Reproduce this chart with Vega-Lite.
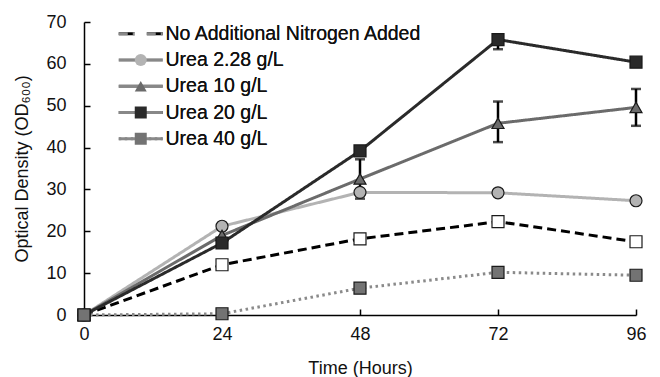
{
  "$schema": "https://vega.github.io/schema/vega-lite/v6.json",
  "width": 552,
  "height": 293,
  "autosize": {"type": "none"},
  "padding": {"left": 84, "top": 22, "right": 24, "bottom": 62},
  "background": "white",
  "config": {
    "view": {"stroke": null},
    "font": "Liberation Sans",
    "axis": {
      "grid": false,
      "domainColor": "#000",
      "domainWidth": 1.5,
      "tickColor": "#000",
      "tickWidth": 1.5,
      "tickSize": -6,
      "labelColor": "#111",
      "labelFontSize": 18,
      "labelFlush": false,
      "labelFont": "Liberation Sans",
      "titleFont": "Liberation Sans",
      "titleFontSize": 18,
      "titleFontWeight": "normal",
      "titleColor": "#111"
    },
    "legend": {
      "labelFont": "Liberation Sans",
      "labelFontSize": 19.5,
      "labelFontWeight": "normal",
      "labelColor": "#111",
      "labelLimit": 0
    }
  },
  "datasets": {
    "series": [
      {"series": "No Additional Nitrogen Added", "time": 0, "od": 0},
      {"series": "No Additional Nitrogen Added", "time": 24, "od": 12.0},
      {"series": "No Additional Nitrogen Added", "time": 48, "od": 18.2},
      {"series": "No Additional Nitrogen Added", "time": 72, "od": 22.3},
      {"series": "No Additional Nitrogen Added", "time": 96, "od": 17.5},
      {"series": "Urea 2.28 g/L", "time": 0, "od": 0},
      {"series": "Urea 2.28 g/L", "time": 24, "od": 21.2},
      {"series": "Urea 2.28 g/L", "time": 48, "od": 29.3},
      {"series": "Urea 2.28 g/L", "time": 72, "od": 29.2},
      {"series": "Urea 2.28 g/L", "time": 96, "od": 27.3},
      {"series": "Urea 10 g/L", "time": 0, "od": 0},
      {"series": "Urea 10 g/L", "time": 24, "od": 19.0},
      {"series": "Urea 10 g/L", "time": 48, "od": 32.5},
      {"series": "Urea 10 g/L", "time": 72, "od": 45.8},
      {"series": "Urea 10 g/L", "time": 96, "od": 49.6},
      {"series": "Urea 20 g/L", "time": 0, "od": 0},
      {"series": "Urea 20 g/L", "time": 24, "od": 17.2},
      {"series": "Urea 20 g/L", "time": 48, "od": 39.2},
      {"series": "Urea 20 g/L", "time": 72, "od": 65.8},
      {"series": "Urea 20 g/L", "time": 96, "od": 60.4},
      {"series": "Urea 40 g/L", "time": 0, "od": 0},
      {"series": "Urea 40 g/L", "time": 24, "od": 0.3},
      {"series": "Urea 40 g/L", "time": 48, "od": 6.4},
      {"series": "Urea 40 g/L", "time": 72, "od": 10.2},
      {"series": "Urea 40 g/L", "time": 96, "od": 9.5}
    ],
    "err": [
      {"series": "Urea 10 g/L", "time": 48, "lo": 27.8, "hi": 37.2},
      {"series": "Urea 10 g/L", "time": 72, "lo": 41.3, "hi": 51.0},
      {"series": "Urea 10 g/L", "time": 96, "lo": 45.2, "hi": 54.0},
      {"series": "Urea 20 g/L", "time": 72, "lo": 63.5, "hi": 67.0}
    ]
  },
  "layer": [
    {
      "data": {"name": "series"},
      "mark": {"type": "line", "strokeWidth": 3},
      "encoding": {
        "x": {
          "field": "time", "type": "quantitative", "title": "Time (Hours)",
          "scale": {"domain": [0, 96], "nice": false},
          "axis": {"values": [0, 24, 48, 72, 96], "labelPadding": 16, "titlePadding": 16}
        },
        "y": {
          "field": "od", "type": "quantitative", "title": "Optical Density (OD₆₀₀)",
          "scale": {"domain": [0, 70], "nice": false},
          "axis": {"values": [0, 10, 20, 30, 40, 50, 60, 70], "labelPadding": 24, "titlePadding": 14}
        },
        "color": {
          "field": "series", "type": "nominal",
          "sort": ["No Additional Nitrogen Added", "Urea 2.28 g/L", "Urea 10 g/L", "Urea 20 g/L", "Urea 40 g/L"],
          "scale": {"range": ["#000000", "#b3b3b3", "#6b6b6b", "#2a2a2a", "#8a8a8a"]},
          "legend": {"title": null, "orient": "none", "legendX": 34, "legendY": 2, "symbolType": "M-4.4,0H4.4", "symbolSize": 100, "symbolStrokeWidth": 3, "symbolOffset": 13, "labelOffset": 15, "rowPadding": 5.25}
        },
        "strokeDash": {
          "field": "series", "type": "nominal",
          "sort": ["No Additional Nitrogen Added", "Urea 2.28 g/L", "Urea 10 g/L", "Urea 20 g/L", "Urea 40 g/L"],
          "scale": {"range": [[9, 5], [1, 0], [1, 0], [1, 0], [2.5, 3.5]]},
          "legend": {"title": null, "orient": "none", "legendX": 34, "legendY": 2, "symbolType": "M-4.4,0H4.4", "symbolSize": 100, "symbolStrokeWidth": 3, "symbolOffset": 13, "labelOffset": 15, "rowPadding": 5.25}
        }
      }
    },
    {
      "data": {"name": "err"},
      "mark": {"type": "errorbar", "ticks": {"color": "#000"}, "rule": {"color": "#000"}, "thickness": 2.5, "size": 10, "color": "#000"},
      "encoding": {
        "x": {"field": "time", "type": "quantitative", "title": "Time (Hours)"},
        "y": {"field": "lo", "type": "quantitative", "title": "Optical Density (OD₆₀₀)"},
        "y2": {"field": "hi"}
      }
    },
    {
      "data": {"name": "series"},
      "mark": {"type": "point", "filled": true, "size": 144, "stroke": "#1a1a1a", "strokeWidth": 1.2, "opacity": 1},
      "encoding": {
        "x": {"field": "time", "type": "quantitative", "title": "Time (Hours)"},
        "y": {"field": "od", "type": "quantitative", "title": "Optical Density (OD₆₀₀)"},
        "shape": {
          "field": "series", "type": "nominal",
          "scale": {"domain": ["No Additional Nitrogen Added", "Urea 2.28 g/L", "Urea 10 g/L", "Urea 20 g/L", "Urea 40 g/L"], "range": ["square", "circle", "triangle-up", "square", "square"]},
          "legend": {"title": null, "orient": "none", "legendX": 34, "legendY": 2, "symbolSize": 144, "symbolStrokeColor": "#1a1a1a", "symbolStrokeWidth": 1.2, "symbolOffset": 13, "labelExpr": "''", "rowPadding": 5.25}
        },
        "fill": {
          "field": "series", "type": "nominal",
          "scale": {"domain": ["No Additional Nitrogen Added", "Urea 2.28 g/L", "Urea 10 g/L", "Urea 20 g/L", "Urea 40 g/L"], "range": ["#ffffff", "#b3b3b3", "#6b6b6b", "#2a2a2a", "#737373"]},
          "legend": {"title": null, "orient": "none", "legendX": 34, "legendY": 2, "symbolSize": 144, "symbolStrokeColor": "#1a1a1a", "symbolStrokeWidth": 1.2, "symbolOffset": 13, "labelExpr": "''", "rowPadding": 5.25}
        }
      }
    }
  ]
}
